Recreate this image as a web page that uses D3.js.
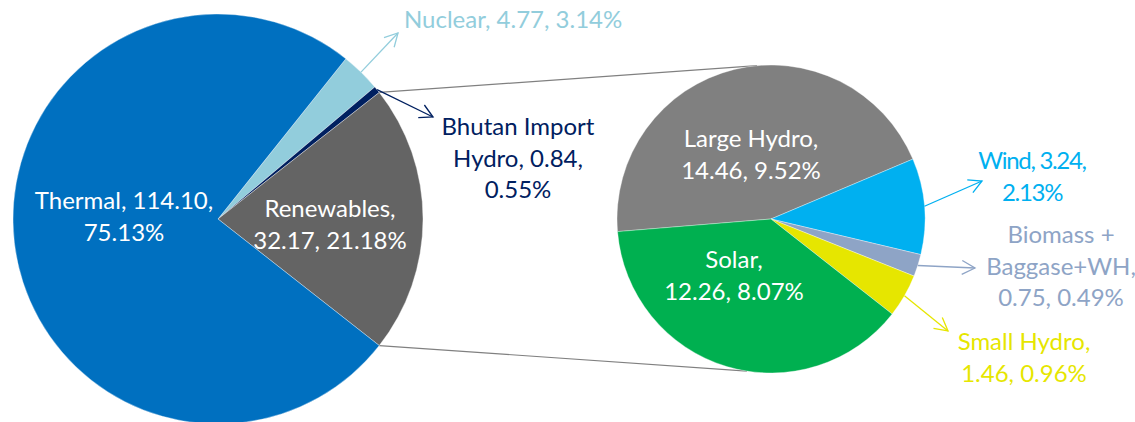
<!DOCTYPE html>
<html><head><meta charset="utf-8">
<script src="https://cdn.jsdelivr.net/npm/d3@7"></script>
<style>
body{margin:0;background:#fff}
svg{display:block}
text{font-family:Lato,"Open Sans",sans-serif}
</style>
</head><body>
<svg id="chart" width="1135" height="422"></svg>
<script>
// ---- data ----
const mainCategories = ["Nuclear", "Bhutan Import Hydro", "Renewables", "Thermal"];
const mainValues = [4.77, 0.84, 32.17, 114.10];
const mainPercents = ["3.14%", "0.55%", "21.18%", "75.13%"];
const subCategories = ["Large Hydro", "Wind", "Biomass + Baggase+WH", "Small Hydro", "Solar"];
const subValues = [14.46, 3.24, 0.75, 1.46, 12.26];
const subPercents = ["9.52%", "2.13%", "0.49%", "0.96%", "8.07%"];
const mainLabelLines = [
  ["Nuclear, 4.77, 3.14%"],
  ["Bhutan Import", "Hydro, 0.84,", "0.55%"],
  ["Renewables,", "32.17, 21.18%"],
  ["Thermal, 114.10,", "75.13%"]
];
const subLabelLines = [
  ["Large Hydro,", "14.46, 9.52%"],
  ["Wind, 3.24,", "2.13%"],
  ["Biomass +", "Baggase+WH,", "0.75, 0.49%"],
  ["Small Hydro,", "1.46, 0.96%"],
  ["Solar,", "12.26, 8.07%"]
];

// ---- styles / layout ----
const mainColors = ["#92CDDC", "#002060", "#646464", "#0070C0"];
const subColors = ["#808080", "#00B0F0", "#8EA4C6", "#E6E600", "#00B050"];
const mainTextColors = ["#92CDDC", "#002060", "#ffffff", "#ffffff"];
const subTextColors = ["#ffffff", "#00B0F0", "#8EA4C6", "#E6E600", "#ffffff"];
const mainCenter = [218, 219], mainR = 205;
const subCenter = [771, 219], subR = 154;
const deg = Math.PI / 180;
// label anchors [x, firstBaseline, anchor]; leader tips (null = inside)
const mainLabelPos = [[404, 28, "start"], [518, 135, "middle"], [330, 217, "middle"], [124, 209, "middle"]];
const mainLeaderTip = [[398, 33], [433, 117], null, null];
const subLabelPos = [[751, 147, "middle"], [1032, 169, "middle"], [1061, 243, "middle"], [1024, 350, "middle"], [734, 268, "middle"]];
const subLeaderTip = [null, [982, 181], [975, 268], [948, 331], null];
const subLetterSpacing = [0, -1.3, 0, 0, 0];
const lineH = 31.5;
const fontSize = 24;

const svg = d3.select("#chart");
const defs = svg.append("defs");
function marker(id, color) {
  defs.append("marker").attr("id", id).attr("markerUnits", "userSpaceOnUse")
    .attr("viewBox", "-14 -8 16 16").attr("refX", 0).attr("refY", 0)
    .attr("markerWidth", 16).attr("markerHeight", 16).attr("orient", "auto")
    .append("path").attr("d", "M-13,-7 L0,0 L-13,7").attr("fill", "none")
    .attr("stroke", color).attr("stroke-width", 1.3);
}

// main pie angles: renewables centred on 3 o'clock
const mainTotal = d3.sum(mainValues);
const ang = v => v / mainTotal * 2 * Math.PI;
const mainStart = Math.PI / 2 - (ang(mainValues[0]) + ang(mainValues[1]) + ang(mainValues[2]) / 2);
const mainPie = d3.pie().sort(null).value(d => d).startAngle(mainStart).endAngle(mainStart + 2 * Math.PI);
const mainArcs = mainPie(mainValues);
const subStart = -94.7 * deg;
const subPie = d3.pie().sort(null).value(d => d).startAngle(subStart).endAngle(subStart + 2 * Math.PI);
const subArcs = subPie(subValues);

const polar = (c, r, a) => [c[0] + r * Math.sin(a), c[1] - r * Math.cos(a)];

// connector lines
const ren = mainArcs[2];
const connectors = [
  [polar(mainCenter, mainR, ren.startAngle), polar(subCenter, subR, -5.2 * deg)],
  [polar(mainCenter, mainR, ren.endAngle), polar(subCenter, subR, 189 * deg)]
];
svg.append("g").selectAll("line").data(connectors).join("line")
  .attr("x1", d => d[0][0]).attr("y1", d => d[0][1])
  .attr("x2", d => d[1][0]).attr("y2", d => d[1][1])
  .attr("stroke", "#808080").attr("stroke-width", 1.2);

function drawPie(arcs, center, r, colors, cats) {
  const arc = d3.arc().innerRadius(0).outerRadius(r);
  svg.append("g").attr("transform", `translate(${center})`)
    .selectAll("path").data(arcs).join("path")
    .attr("d", arc).attr("fill", (d, i) => colors[i])
    .attr("stroke", "#ffffff").attr("stroke-width", 0.6).attr("stroke-opacity", 0.6);
}
drawPie(mainArcs, mainCenter, mainR, mainColors, mainCategories);
drawPie(subArcs, subCenter, subR, subColors, subCategories);

function drawLeaders(arcs, center, r, tips, colors, prefix) {
  arcs.forEach((a, i) => {
    if (!tips[i]) return;
    const id = prefix + i;
    marker(id, colors[i]);
    const s = polar(center, r, (a.startAngle + a.endAngle) / 2);
    svg.append("line").attr("x1", s[0]).attr("y1", s[1])
      .attr("x2", tips[i][0]).attr("y2", tips[i][1])
      .attr("stroke", colors[i]).attr("stroke-width", 1.3)
      .attr("marker-end", `url(#${id})`);
  });
}
drawLeaders(mainArcs, mainCenter, mainR, mainLeaderTip, mainColors, "mm");
drawLeaders(subArcs, subCenter, subR, subLeaderTip, subColors, "sm");

function drawLabels(lines, pos, colors, spacing) {
  lines.forEach((ls, i) => {
    const t = svg.append("text").attr("x", pos[i][0]).attr("y", pos[i][1])
      .attr("text-anchor", pos[i][2]).attr("fill", colors[i])
      .attr("font-size", fontSize)
      .attr("letter-spacing", spacing ? spacing[i] : 0);
    ls.forEach((l, j) => t.append("tspan").attr("x", pos[i][0]).attr("dy", j ? lineH : 0).text(l));
  });
}
drawLabels(mainLabelLines, mainLabelPos, mainTextColors, null);
drawLabels(subLabelLines, subLabelPos, subTextColors, subLetterSpacing);
</script>
</body></html>
